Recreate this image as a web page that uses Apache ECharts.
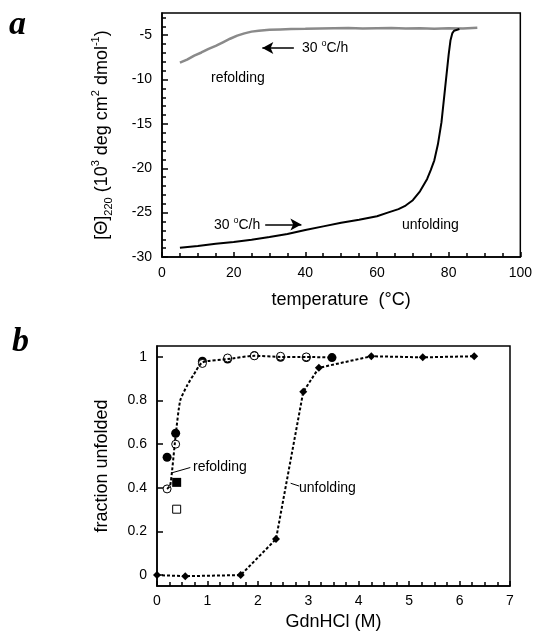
<!DOCTYPE html>
<html>
<head>
<meta charset="utf-8">
<script src="https://cdn.jsdelivr.net/npm/echarts@6/dist/echarts.min.js"></script>
<style>
html, body { margin: 0; padding: 0; background: #fff; }
#chart { width: 535px; height: 632px; }
</style>
</head>
<body>
<div id="chart"></div>
<script>
// panel a: thermal unfolding / refolding scan
const unfoldTemp = [5, 10, 15, 20, 25, 30, 35, 40, 45, 50, 55, 60, 63, 66, 68, 70, 72, 74, 75, 76, 77, 78, 79, 80, 80.5, 81, 81.5, 82, 83];
const unfoldTheta = [-28.95, -28.75, -28.5, -28.3, -28.05, -27.75, -27.4, -26.95, -26.55, -26.15, -25.8, -25.4, -25.0, -24.6, -24.2, -23.6, -22.6, -21.2, -20.2, -19.1, -17.3, -14.8, -11.0, -7.2, -5.6, -4.8, -4.5, -4.35, -4.3];
const refoldTemp = [5, 7, 9, 11, 13, 15, 17, 19, 21, 23, 25, 27, 30, 33, 36, 40, 44, 48, 52, 56, 60, 64, 68, 72, 76, 80, 84, 88];
const refoldTheta = [-8.1, -7.75, -7.3, -6.95, -6.55, -6.2, -5.8, -5.4, -5.05, -4.8, -4.6, -4.5, -4.4, -4.35, -4.3, -4.28, -4.25, -4.22, -4.2, -4.25, -4.22, -4.2, -4.25, -4.22, -4.28, -4.22, -4.25, -4.15];
const tempTicks = [0, 20, 40, 60, 80, 100];
const thetaTicks = [-30, -25, -20, -15, -10, -5];

// panel b: GdnHCl titration
const unfoldConc = [0, 0.56, 1.66, 2.36, 2.9, 3.21, 4.25, 5.27, 6.29];
const unfoldFrac = [0, -0.005, 0, 0.165, 0.84, 0.95, 1.003, 0.998, 1.003];
const refoldFitConc = [0.2, 0.26, 0.3, 0.37, 0.46, 0.6, 0.73, 0.9, 1.4, 1.93, 2.45, 2.96, 3.47];
const refoldFitFrac = [0.395, 0.41, 0.48, 0.64, 0.8, 0.87, 0.92, 0.975, 0.99, 1.005, 1.0, 1.0, 0.997];
const filledCircleConc = [0.2, 0.37, 0.9, 1.4, 1.93, 2.45, 2.96, 3.47];
const filledCircleFrac = [0.54, 0.65, 0.98, 0.99, 1.006, 0.998, 0.997, 0.997];
const openCircleConc = [0.2, 0.37, 0.9, 1.4, 1.93, 2.45, 2.96];
const openCircleFrac = [0.395, 0.6, 0.97, 0.995, 1.005, 1.003, 1.0];
const filledSquareConc = [0.39];
const filledSquareFrac = [0.425];
const openSquareConc = [0.39];
const openSquareFrac = [0.302];
const concTicks = [0, 1, 2, 3, 4, 5, 6, 7];
const fracTicks = [0, 0.2, 0.4, 0.6, 0.8, 1];

const zip = (xs, ys) => xs.map((x, i) => [x, ys[i]]);
const FONT = '"Liberation Sans", Arial, sans-serif';

// minor tick positions between consecutive major ticks
const minorsOf = (majors, n) => {
    const out = [];
    for (let i = 0; i < majors.length - 1; i++) {
        const step = (majors[i + 1] - majors[i]) / n;
        for (let k = 1; k < n; k++) out.push(majors[i] + k * step);
    }
    return out;
};
const thetaMinor = minorsOf(thetaTicks.concat([0]), 5).filter(v => v < -2.5);

const axisLine = (onZero) => ({ show: true, onZero: onZero, lineStyle: { color: '#000', width: 1.5 } });
const ticks = (len, extra) => Object.assign({ show: true, inside: true, length: len, lineStyle: { color: '#000', width: 1.5 } }, extra || {});
const minor = () => ({ show: true, splitNumber: 4, length: 4, lineStyle: { color: '#000', width: 1.5 } });
const labels = (margin, extra) => Object.assign({ margin: margin, color: '#000', fontSize: 14, fontFamily: FONT }, extra || {});
const nameStyle = () => ({ color: '#000', fontSize: 18, fontFamily: FONT });

const chart = echarts.init(document.getElementById('chart'));

const leader = (a, b, arrow) => [
    { coord: a, symbol: 'none' },
    { coord: b, symbol: arrow ? 'arrow' : 'none' }
];

const rateLabel = () => ({
    n: { fontSize: 14, fontFamily: FONT, fill: '#000', lineHeight: 18, verticalAlign: 'middle' },
    p: { fontSize: 9, fontFamily: FONT, fill: '#000', lineHeight: 10, verticalAlign: 'top' }
});

const option = {
    animation: false,
    grid: [
        { left: 162, top: 13, right: 12, bottom: 375, show: true, borderColor: '#000', borderWidth: 1.5 },
        { left: 157, top: 346, right: 25, bottom: 44, show: true, borderColor: '#000', borderWidth: 1.5 }
    ],
    xAxis: [
        {
            gridIndex: 0, type: 'value', min: 0, max: 100, interval: 20,
            axisLine: axisLine(true),
            axisTick: ticks(5),
            minorTick: minor(),
            splitLine: { show: false },
            axisLabel: labels(9),
            name: 'temperature  (°C)',
            nameLocation: 'middle', nameGap: 34,
            nameTextStyle: nameStyle()
        },
        {
            gridIndex: 1, type: 'value', min: 0, max: 7, interval: 1,
            axisLine: axisLine(false),
            axisTick: ticks(5),
            minorTick: minor(),
            splitLine: { show: false },
            axisLabel: labels(8),
            name: 'GdnHCl (M)',
            nameLocation: 'middle', nameGap: 27,
            nameTextStyle: nameStyle()
        }
    ],
    yAxis: [
        {
            gridIndex: 0, type: 'value', min: -30, max: -2.5,
            axisLine: axisLine(true),
            axisTick: ticks(6, { customValues: thetaTicks }),
            splitLine: { show: false },
            axisLabel: labels(10, { customValues: thetaTicks }),
            name: '{n|[Θ]}{s|220}{n| (10}{p|3}{n| deg cm}{p|2}{n| dmol}{p|-1}{n|)}',
            nameLocation: 'middle', nameGap: 48,
            nameTextStyle: {
                color: '#000',
                rich: {
                    n: { fontSize: 18, fontFamily: FONT, color: '#000', lineHeight: 24, verticalAlign: 'middle' },
                    p: { fontSize: 11, fontFamily: FONT, color: '#000', lineHeight: 12, verticalAlign: 'top' },
                    s: { fontSize: 11, fontFamily: FONT, color: '#000', lineHeight: 10, verticalAlign: 'bottom' }
                }
            }
        },
        {
            gridIndex: 1, type: 'value', min: -0.05, max: 1.05,
            axisLine: axisLine(true),
            axisTick: ticks(6, { customValues: fracTicks }),
            splitLine: { show: false },
            axisLabel: labels(10, { customValues: fracTicks }),
            name: 'fraction unfolded',
            nameLocation: 'middle', nameGap: 46,
            nameTextStyle: nameStyle()
        },
        {
            gridIndex: 0, type: 'value', min: -30, max: -2.5, position: 'left', offset: 0,
            axisLine: { show: false },
            axisTick: ticks(4, { customValues: thetaMinor }),
            axisLabel: { show: false },
            splitLine: { show: false }
        }
    ],
    series: [
        {
            type: 'line', xAxisIndex: 0, yAxisIndex: 0, name: 'refolding',
            data: zip(refoldTemp, refoldTheta), showSymbol: false, silent: true,
            lineStyle: { color: '#8a8a8a', width: 2.5 },
            markLine: {
                silent: true, symbolSize: [9, 11], label: { show: false },
                lineStyle: { color: '#000', width: 1.5, type: 'solid' },
                data: [leader([36.8, -6.45], [28.0, -6.45], true)]
            }
        },
        {
            type: 'line', xAxisIndex: 0, yAxisIndex: 0, name: 'unfolding',
            data: zip(unfoldTemp, unfoldTheta), showSymbol: false, silent: true,
            lineStyle: { color: '#000', width: 2 },
            markLine: {
                silent: true, symbolSize: [9, 11], label: { show: false },
                lineStyle: { color: '#000', width: 1.5, type: 'solid' },
                data: [leader([28.8, -26.35], [38.9, -26.35], true)]
            }
        },
        {
            type: 'line', xAxisIndex: 1, yAxisIndex: 1, name: 'unfolding GdnHCl',
            data: zip(unfoldConc, unfoldFrac), symbol: 'diamond', symbolSize: 8, silent: true,
            itemStyle: { color: '#000', opacity: 1 },
            lineStyle: { color: '#000', width: 2, type: [3, 2] },
            markLine: {
                silent: true, symbol: 'none', label: { show: false },
                lineStyle: { color: '#000', width: 1, type: 'solid' },
                data: [leader([2.65, 0.421], [2.82, 0.408], false)]
            }
        },
        {
            type: 'line', xAxisIndex: 1, yAxisIndex: 1, name: 'refolding fit',
            data: zip(refoldFitConc, refoldFitFrac), showSymbol: false, smooth: 0.2, silent: true,
            lineStyle: { color: '#000', width: 2, type: [3, 2] },
            markLine: {
                silent: true, symbol: 'none', label: { show: false },
                lineStyle: { color: '#000', width: 1, type: 'solid' },
                data: [leader([0.3, 0.469], [0.66, 0.493], false)]
            }
        },
        {
            type: 'scatter', xAxisIndex: 1, yAxisIndex: 1, silent: true,
            data: zip(filledCircleConc, filledCircleFrac), symbol: 'circle', symbolSize: 9,
            itemStyle: { color: '#000', opacity: 1 }
        },
        {
            type: 'scatter', xAxisIndex: 1, yAxisIndex: 1, silent: true,
            data: zip(openCircleConc, openCircleFrac), symbol: 'circle', symbolSize: 8,
            itemStyle: { color: '#fff', borderColor: '#000', borderWidth: 1, opacity: 1 }
        },
        {
            type: 'scatter', xAxisIndex: 1, yAxisIndex: 1, silent: true,
            data: zip(filledSquareConc, filledSquareFrac), symbol: 'rect', symbolSize: 9,
            itemStyle: { color: '#000', opacity: 1 }
        },
        {
            type: 'scatter', xAxisIndex: 1, yAxisIndex: 1, silent: true,
            data: zip(openSquareConc, openSquareFrac), symbol: 'rect', symbolSize: 8,
            itemStyle: { color: '#fff', borderColor: '#000', borderWidth: 1, opacity: 1 }
        }
    ],
    graphic: [
        { type: 'text', x: 9, y: 25, style: { text: 'a', font: 'italic bold 34px "Liberation Serif", serif', fill: '#000', verticalAlign: 'middle' } },
        { type: 'text', x: 12, y: 342, style: { text: 'b', font: 'italic bold 34px "Liberation Serif", serif', fill: '#000', verticalAlign: 'middle' } },
        { type: 'text', x: 211, y: 78, style: { text: 'refolding', font: '14px ' + FONT, fill: '#000', verticalAlign: 'middle' } },
        { type: 'text', x: 402, y: 225, style: { text: 'unfolding', font: '14px ' + FONT, fill: '#000', verticalAlign: 'middle' } },
        { type: 'text', x: 302, y: 48, style: { text: '{n|30 }{p|o}{n|C/h}', verticalAlign: 'middle', fill: '#000', rich: rateLabel() } },
        { type: 'text', x: 214, y: 225, style: { text: '{n|30 }{p|o}{n|C/h}', verticalAlign: 'middle', fill: '#000', rich: rateLabel() } },
        { type: 'text', x: 193, y: 467, style: { text: 'refolding', font: '14px ' + FONT, fill: '#000', verticalAlign: 'middle' } },
        { type: 'text', x: 299, y: 488, style: { text: 'unfolding', font: '14px ' + FONT, fill: '#000', verticalAlign: 'middle' } }
    ]
};

chart.setOption(option);
</script>
</body>
</html>
